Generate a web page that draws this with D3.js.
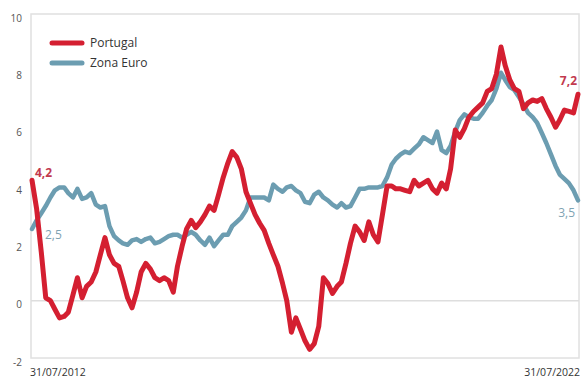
<!DOCTYPE html>
<html>
<head>
<meta charset="utf-8">
<script src="https://cdn.jsdelivr.net/npm/d3@7"></script>
<style>
  body { margin: 0; background: #fff; }
  #chart { width: 582px; height: 378px; }
  text { font-family: "Open Sans", sans-serif; }
</style>
</head>
<body>
<div id="chart"></div>
<script>

// data (monthly, 31/07/2012 .. 31/07/2022)
var startDate = "2012-07-31";
var endDate = "2022-07-31";

var portugal = [
  4.2, 3.2, 1.7, 0.1, 0.0, -0.3, -0.6, -0.55, -0.4, 0.2,
  0.8, 0.1, 0.5, 0.65, 1.0, 1.6, 2.2, 1.6, 1.3, 1.2,
  0.7, 0.1, -0.25, 0.3, 1.0, 1.3, 1.1, 0.8, 0.7, 0.8,
  0.7, 0.3, 1.2, 1.9, 2.5, 2.8, 2.55, 2.75, 3.0, 3.3,
  3.15, 3.7, 4.3, 4.8, 5.2, 5.0, 4.6, 3.8, 3.4, 3.0,
  2.7, 2.45, 2.0, 1.6, 1.2, 0.6, 0.0, -1.1, -0.6, -1.0,
  -1.4, -1.7, -1.5, -0.9, 0.8, 0.6, 0.25, 0.5, 0.65, 1.3,
  2.0, 2.6, 2.4, 2.1, 2.75, 2.3, 2.05, 3.0, 4.0, 4.0,
  3.9, 3.9, 3.85, 3.8, 4.2, 4.0, 4.1, 4.2, 3.9, 3.75,
  4.1, 3.9, 4.6, 5.95, 5.7, 6.0, 6.4, 6.6, 6.75, 6.9,
  7.3, 7.4, 7.9, 8.85, 8.2, 7.7, 7.4, 7.3, 6.7, 6.9,
  7.0, 6.95, 7.05, 6.7, 6.4, 6.05, 6.3, 6.65, 6.6, 6.55,
  7.2
];

var zonaEuro = [
  2.5, 2.8, 3.05, 3.3, 3.6, 3.85, 3.95, 3.95, 3.75, 3.6,
  3.9, 3.55, 3.6, 3.75, 3.35, 3.25, 3.3, 2.6, 2.25, 2.1,
  2.0, 1.95, 2.1, 2.15, 2.05, 2.15, 2.2, 2.0, 2.05, 2.15,
  2.25, 2.3, 2.3, 2.2, 2.3, 2.4, 2.3, 2.1, 1.95, 2.2,
  1.9, 2.1, 2.3, 2.3, 2.6, 2.75, 2.9, 3.15, 3.6, 3.6,
  3.6, 3.6, 3.5, 4.05, 3.9, 3.8, 3.95, 4.0, 3.85, 3.75,
  3.45, 3.4, 3.7, 3.8, 3.6, 3.5, 3.35, 3.25, 3.4, 3.25,
  3.3, 3.6, 3.9, 3.9, 3.95, 3.95, 3.95, 4.0, 4.3, 4.75,
  4.95, 5.1, 5.2, 5.15, 5.3, 5.45, 5.7, 5.6, 5.5, 5.9,
  5.25, 5.15, 5.4, 5.9, 6.3, 6.5, 6.4, 6.35, 6.35, 6.55,
  6.8, 7.0, 7.4, 7.95, 7.7, 7.45, 7.35, 7.1, 6.85, 6.55,
  6.4, 6.2, 5.85, 5.5, 5.1, 4.7, 4.4, 4.25, 4.1, 3.85,
  3.5
];

var yTicks = [10, 8, 6, 4, 2, 0, -2];
var gridTicks = [0];
var xLabels = ["31/07/2012", "31/07/2022"];
var seriesNames = ["Portugal", "Zona Euro"];
var endLabels = { first: ["4,2", "2,5"], last: ["7,2", "3,5"] };

// style
var colors = ["#d41f31", "#6c9db1"];
var labelColors = ["#c23a4e", "#7fa3b3"];
var widths = [5, 4.5];
var margin = { top: 14, right: 3, bottom: 20, left: 31 };

var outerW = 582, outerH = 378;
var width = outerW - margin.left - margin.right;
var height = outerH - margin.top - margin.bottom;

var svg = d3.select("#chart").append("svg")
    .attr("width", outerW)
    .attr("height", outerH);

var g = svg.append("g")
    .attr("transform", "translate(" + margin.left + "," + margin.top + ")");

var parse = d3.timeParse("%Y-%m-%d");
var t0 = parse(startDate), t1 = parse(endDate);
var months = d3.timeMonth.range(d3.timeMonth.floor(t0), d3.timeMonth.offset(d3.timeMonth.floor(t1), 1));

var x = d3.scaleTime()
    .domain([months[0], months[months.length - 1]])
    .range([1, width - 1]);

var y = d3.scaleLinear()
    .domain([-2, 10])
    .range([height, 0]);

// frame and zero line
g.append("rect")
    .attr("x", 0)
    .attr("y", 0)
    .attr("width", width)
    .attr("height", height)
    .attr("fill", "none")
    .attr("stroke", "#e0e0e0")
    .attr("stroke-width", 1.5);

g.selectAll(".grid")
    .data(gridTicks)
  .enter().append("line")
    .attr("class", "grid")
    .attr("x1", 0)
    .attr("x2", width)
    .attr("y1", function(d) { return y(d); })
    .attr("y2", function(d) { return y(d); })
    .attr("stroke", "#dedede")
    .attr("stroke-width", 1.5);

// y axis (labels only), plain hyphen for negatives
var yAxis = d3.axisLeft(y)
    .tickValues(yTicks)
    .tickSize(0)
    .tickPadding(9)
    .tickFormat(function(d) { return String(d); });

var ya = g.append("g").call(yAxis);
ya.select(".domain").remove();
ya.selectAll("text")
    .attr("font-family", "\"Open Sans\", sans-serif")
    .attr("font-size", "10px")
    .attr("fill", "#555")
    .attr("dy", "0.7em");

// x labels at the two ends
var xa = g.append("g")
    .attr("transform", "translate(0," + height + ")");

xa.selectAll("text")
    .data([months[0], months[months.length - 1]])
  .enter().append("text")
    .attr("x", function(d, i) { return i === 0 ? x(d) - 2 : x(d) + 2; })
    .attr("y", 18)
    .attr("text-anchor", function(d, i) { return i === 0 ? "start" : "end"; })
    .attr("font-size", "10.5px")
    .attr("fill", "#333")
    .text(function(d, i) { return xLabels[i]; });

// lines
var line = d3.line()
    .x(function(d, i) { return x(months[i]); })
    .y(function(d) { return y(d); })
    .curve(d3.curveLinear);

var series = [zonaEuro, portugal];
var order = [1, 0];

g.selectAll(".serie")
    .data(series)
  .enter().append("path")
    .attr("class", "serie")
    .attr("fill", "none")
    .attr("stroke", function(d, i) { return colors[order[i]]; })
    .attr("stroke-width", function(d, i) { return widths[order[i]]; })
    .attr("stroke-linejoin", "round")
    .attr("stroke-linecap", "round")
    .attr("d", line);

// end labels
var lastI = months.length - 1;
var endPos = [
  { txt: endLabels.first[0], x: x(months[0]) + 3, y: y(portugal[0]) - 3, anchor: "start", c: 0 },
  { txt: endLabels.first[1], x: x(months[0]) + 13, y: y(zonaEuro[0]) + 10, anchor: "start", c: 1 },
  { txt: endLabels.last[0], x: x(months[lastI]) - 1, y: y(portugal[lastI]) - 9, anchor: "end", c: 0 },
  { txt: endLabels.last[1], x: x(months[lastI]) - 3, y: y(zonaEuro[lastI]) + 17, anchor: "end", c: 1 }
];

g.selectAll(".endlabel")
    .data(endPos)
  .enter().append("text")
    .attr("class", "endlabel")
    .attr("x", function(d) { return d.x; })
    .attr("y", function(d) { return d.y; })
    .attr("text-anchor", function(d) { return d.anchor; })
    .attr("font-size", "12px")
    .attr("font-weight", function(d) { return d.c === 0 ? "bold" : "normal"; })
    .attr("fill", function(d) { return labelColors[d.c]; })
    .text(function(d) { return d.txt; });

// legend
var legend = g.selectAll(".legend")
    .data(seriesNames)
  .enter().append("g")
    .attr("class", "legend")
    .attr("transform", function(d, i) { return "translate(21," + (29 + i * 20) + ")"; });

legend.append("line")
    .attr("x1", 0)
    .attr("x2", 30)
    .attr("stroke", function(d, i) { return colors[i]; })
    .attr("stroke-width", 5)
    .attr("stroke-linecap", "round");

legend.append("text")
    .attr("x", 38)
    .attr("dy", "0.35em")
    .attr("font-size", "12px")
    .attr("fill", "#333")
    .text(function(d) { return d; });

</script>
</body>
</html>
